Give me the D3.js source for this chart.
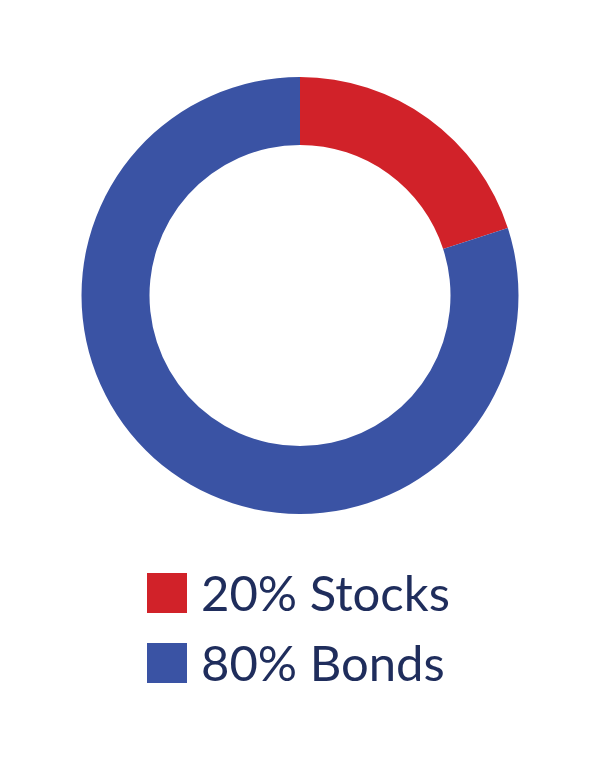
<!DOCTYPE html>
<html><head><meta charset="utf-8">
<script src="https://cdn.jsdelivr.net/npm/d3@7"></script>
<style>body{margin:0;background:#fff}</style>
</head><body>
<svg id="c" width="600" height="760"></svg>
<script>
const categories = ["Stocks", "Bonds"];
const values = [20, 80];
const labels = ["20% Stocks", "80% Bonds"];
const colors = ["#d12229", "#3a53a4"];

const svg = d3.select("#c");
const cx = 300, cy = 295.5, R = 218.5, r = 150.5;
const pie = d3.pie().sort(null).value(d => d)(values);
const arc = d3.arc().innerRadius(r).outerRadius(R);
svg.append("g").attr("transform", `translate(${cx},${cy})`)
  .selectAll("path").data(pie).join("path")
  .attr("d", arc).attr("fill", (d, i) => colors[i]);

const y = d3.scaleBand().domain(categories).range([573, 683]).paddingInner(3 / 7);
const lg = svg.append("g");
lg.selectAll("rect").data(categories).join("rect")
  .attr("x", 147).attr("y", d => y(d)).attr("width", 40).attr("height", 40)
  .attr("fill", (d, i) => colors[i]);
lg.selectAll("text").data(categories).join("text")
  .attr("x", 201).attr("y", d => y(d) + 38)
  .attr("font-family", "Lato").attr("font-size", 49)
  .attr("fill", "#1f2d5c")
  .text((d, i) => labels[i]);
</script>
</body></html>
